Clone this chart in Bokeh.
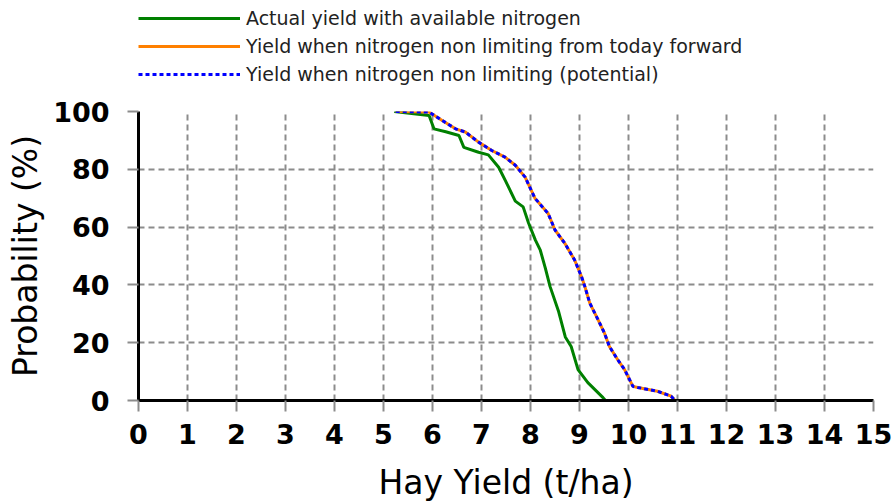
from bokeh.plotting import figure
from bokeh.layouts import column
from bokeh.models import Range1d, FixedTicker, Legend, LegendItem
from bokeh.embed import file_html
from bokeh.resources import INLINE

# Data
actual_yield = [5.22, 5.93, 6.03, 6.27, 6.54, 6.64, 6.94, 7.14, 7.35, 7.49, 7.69, 7.85,
                7.96, 8.10, 8.20, 8.30, 8.40, 8.57, 8.71, 8.83, 8.97, 9.17, 9.48, 9.53]
actual_prob = [100, 98.6, 94, 93, 91.7, 87.6, 85.9, 85, 80.7, 76, 69, 67,
               61.4, 55.5, 52, 46, 39.4, 31, 22, 18.7, 10.7, 6.2, 1, 0]

forward_yield = [5.25, 5.93, 6.19, 6.47, 6.67, 6.94, 7.21, 7.48, 7.69, 7.89, 8.09, 8.36,
                 8.50, 8.70, 8.90, 9.04, 9.11, 9.21, 9.38, 9.51, 9.61, 9.78, 9.92, 10.09,
                 10.19, 10.59, 10.87, 10.95]
forward_prob = [100, 99.8, 97, 94, 92.9, 89.4, 86.5, 84.2, 81.4, 77.3, 70, 64.7,
                59, 54.4, 48.6, 42.9, 39.4, 33.7, 27.9, 23.3, 18.7, 14.1, 10.7, 4.9,
                4.5, 3.2, 1.5, 0]

potential_yield = [5.25, 5.93, 6.19, 6.47, 6.67, 6.94, 7.21, 7.48, 7.69, 7.89, 8.09, 8.36,
                   8.50, 8.70, 8.90, 9.04, 9.11, 9.21, 9.38, 9.51, 9.61, 9.78, 9.92, 10.09,
                   10.19, 10.59, 10.87, 10.95]
potential_prob = [100, 99.8, 97, 94, 92.9, 89.4, 86.5, 84.2, 81.4, 77.3, 70, 64.7,
                  59, 54.4, 48.6, 42.9, 39.4, 33.7, 27.9, 23.3, 18.7, 14.1, 10.7, 4.9,
                  4.5, 3.2, 1.5, 0]

x_ticks = list(range(0, 16))
y_ticks = [0, 20, 40, 60, 80, 100]
series_labels = ["Actual yield with available nitrogen",
                 "Yield when nitrogen non limiting from today forward",
                 "Yield when nitrogen non limiting (potential)"]
series_colors = ["#008000", "#ff8000", "#0000ff"]
series_dash = ["solid", "solid", "4 3"]
series = [(actual_yield, actual_prob), (forward_yield, forward_prob),
          (potential_yield, potential_prob)]

# ---------- main chart ----------
p = figure(width=892, height=414, x_range=Range1d(0, 15), y_range=Range1d(0, 100),
           output_backend="svg", toolbar_location=None,
           min_border_left=138, min_border_right=19, min_border_top=21, min_border_bottom=103)
p.outline_line_color = None
p.background_fill_color = "white"

p.xgrid.ticker = FixedTicker(ticks=x_ticks[1:])
p.ygrid.ticker = FixedTicker(ticks=y_ticks[1:-1])
for g in (p.xgrid, p.ygrid):
    g.grid_line_color = "#8c8c8c"
    g.grid_line_width = 2
    g.grid_line_dash = "6 4"

p.xaxis.ticker = FixedTicker(ticks=x_ticks)
p.yaxis.ticker = FixedTicker(ticks=y_ticks)
p.xaxis.axis_label = "Hay Yield (t/ha)"
p.yaxis.axis_label = "Probability (%)"
for ax in (p.xaxis, p.yaxis):
    ax.axis_line_color = "black"
    ax.axis_line_width = 3
    ax.major_tick_line_color = "#8c8c8c"
    ax.major_tick_line_width = 2
    ax.major_tick_out = 11
    ax.major_tick_in = 0
    ax.minor_tick_line_color = None
    ax.major_label_text_font = "DejaVu Sans"
    ax.major_label_text_font_size = "27px"
    ax.major_label_text_font_style = "bold"
    ax.major_label_text_color = "black"
    ax.axis_label_text_font = "DejaVu Sans"
    ax.axis_label_text_font_size = "33px"
    ax.axis_label_text_font_style = "normal"
    ax.axis_label_text_color = "black"
p.xaxis.major_label_standoff = 12
p.yaxis.major_label_standoff = 18
p.xaxis.axis_label_standoff = 16
p.yaxis.axis_label_standoff = 5

for (xs, ys), c, d in zip(series, series_colors, series_dash):
    p.line(xs, ys, line_color=c, line_width=3, line_dash=d)

# ---------- legend strip above the chart ----------
leg = figure(width=892, height=90, x_range=Range1d(100, 101), y_range=Range1d(0, 1),
             output_backend="svg", toolbar_location=None,
             x_axis_type=None, y_axis_type=None,
             min_border_left=0, min_border_right=0, min_border_top=0, min_border_bottom=0)
leg.outline_line_color = None
leg.xgrid.visible = False
leg.ygrid.visible = False
items = []
for (xs, ys), c, d, lab in zip(series, series_colors, series_dash, series_labels):
    r = leg.line(xs, ys, line_color=c, line_width=3, line_dash=d)
    items.append(LegendItem(label=lab, renderers=[r]))

legend = Legend(items=items, location=(0, 5), orientation="vertical", padding=0, margin=0,
                border_line_color=None, background_fill_alpha=0,
                glyph_width=102, glyph_height=18, label_height=18, spacing=6,
                label_standoff=6, label_text_font="DejaVu Sans",
                label_text_font_size="19px", label_text_color="#222222")
leg.add_layout(legend)

layout = column(leg, p, spacing=0)
open("out.html", "w").write(file_html(layout, INLINE))
